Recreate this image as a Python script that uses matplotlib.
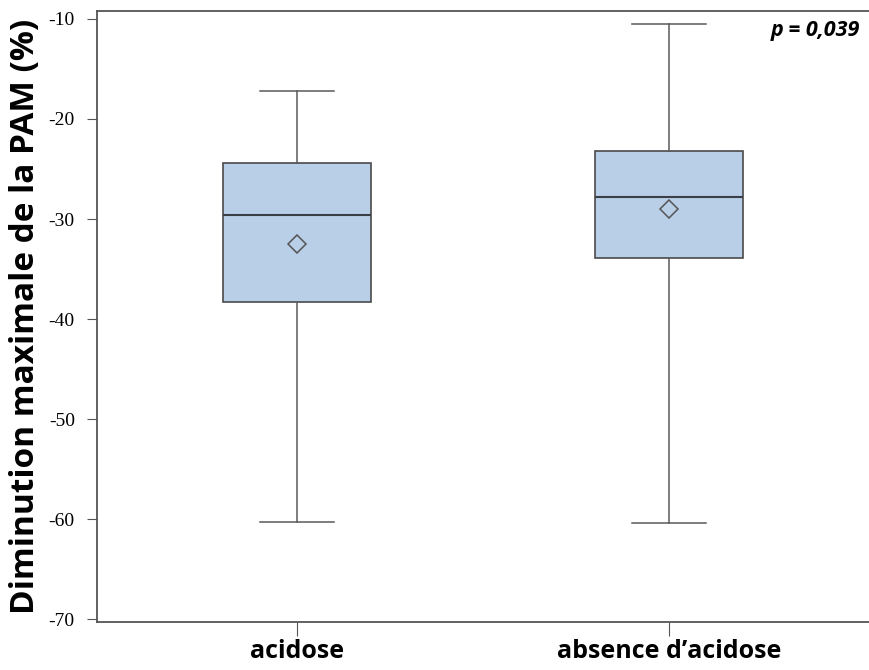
import matplotlib.pyplot as plt

groups = ['acidose', "absence d\u2019acidose"]
whis_low = [-60.3, -60.4]
q1 = [-38.3, -33.9]
median = [-29.6, -27.8]
q3 = [-24.4, -23.2]
whis_high = [-17.2, -10.5]
mean = [-32.5, -29.0]

stats = []
for i, g in enumerate(groups):
    stats.append({'label': g, 'whislo': whis_low[i], 'q1': q1[i], 'med': median[i],
                  'q3': q3[i], 'whishi': whis_high[i], 'mean': mean[i], 'fliers': []})

fig = plt.figure(figsize=(8.69, 6.7), dpi=100)
ax = fig.add_axes([0.1116, 0.0716, 0.8884, 0.912])

ax.bxp(stats, positions=[1, 2], widths=0.40, showmeans=True, patch_artist=True,
       boxprops=dict(facecolor='#b9cfe7', edgecolor='#4a4a4a', linewidth=1.2),
       medianprops=dict(color='#3a3f46', linewidth=1.5),
       whiskerprops=dict(color='#5a5a5a', linewidth=1.1),
       capprops=dict(color='#5a5a5a', linewidth=1.1),
       meanprops=dict(marker='D', markerfacecolor='none', markeredgecolor='#555555',
                      markersize=9, markeredgewidth=1.1))

ax.set_xlim(0.462, 2.538)
ax.set_ylim(-70.3, -9.2)
ax.set_yticks([-10, -20, -30, -40, -50, -60, -70])
ax.set_yticklabels(['-10', '-20', '-30', '-40', '-50', '-60', '-70'],
                   family='Liberation Serif', fontsize=14)
ax.set_xticks([1, 2])
ax.set_xticklabels(groups, family='Open Sans', fontweight='bold', fontsize=18)
ax.tick_params(axis='y', length=7, color='#555555', pad=9)
ax.tick_params(axis='x', length=10, color='#555555', pad=2)

for s in ['left', 'top', 'bottom']:
    ax.spines[s].set_color('#555555')
    ax.spines[s].set_linewidth(1.3)
ax.spines['right'].set_visible(False)

ax.set_ylabel('Diminution maximale de la PAM (%)', family='Open Sans',
              fontweight='bold', fontsize=24, labelpad=5)

ax.text(0.988, 0.985, 'p = 0,039', transform=ax.transAxes, ha='right', va='top',
        family='Open Sans', fontweight='bold', fontstyle='italic', fontsize=15.5)

fig.savefig('out.png', dpi=100)
